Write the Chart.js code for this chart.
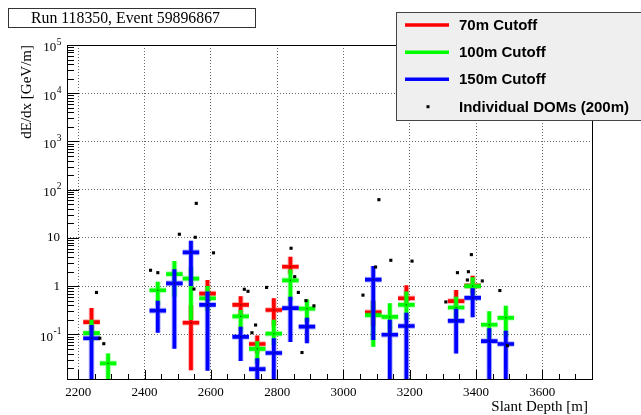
<!DOCTYPE html>
<html>
<head>
<meta charset="utf-8">
<script src="https://cdn.jsdelivr.net/npm/chart.js@4/dist/chart.umd.min.js"></script>
<style>
  html, body { margin: 0; padding: 0; background: #fff; }
  #wrap { width: 641px; height: 415px; }
</style>
</head>
<body>
<div id="wrap"><canvas id="c" width="641" height="415"></canvas></div>
<script>
// tick labels
const xTicks = [2200, 2400, 2600, 2800, 3000, 3200, 3400, 3600];
const yTicks = [0.1, 1, 10, 100, 1000, 10000, 100000];
// [base, exponent] for the y labels
const yTickLabels = [['10', '-1'], ['1', ''], ['10', ''], ['10', '2'], ['10', '3'], ['10', '4'], ['10', '5']];

// half bin width [m]
const binHalf = 25;

// 70m cutoff
const cut70X  = [2240, 2540, 2590, 2690, 2740, 2790, 2840, 3090, 3190, 3340, 3390];
const cut70Y  = [0.18, 0.174, 0.70, 0.41, 0.063, 0.32, 2.52, 0.286, 0.56, 0.49, 1.02];
const cut70Lo = [0.12, 0.018, 0.5, 0.25, 0.04, 0.15, 1.8, 0.15, 0.4, 0.35, 0.7];
const cut70Hi = [0.35, 0.4, 1.34, 0.62, 0.095, 0.56, 4.07, 0.5, 1.04, 0.83, 1.64];

// 100m cutoff
const cut100X  = [2240, 2290, 2440, 2490, 2540, 2590, 2690, 2740, 2790, 2840, 2890, 3090, 3140, 3190, 3340, 3390, 3440, 3490];
const cut100Y  = [0.106, 0.025, 0.82, 1.78, 1.43, 0.56, 0.236, 0.050, 0.103, 1.32, 0.34, 0.25, 0.23, 0.41, 0.36, 1.0, 0.158, 0.22];
const cut100Lo = [0.07, 0.004, 0.4, 0.6, 0.198, 0.3, 0.12, 0.025, 0.06, 0.5, 0.18, 0.055, 0.1, 0.2, 0.2, 0.5, 0.08, 0.09];
const cut100Hi = [0.20, 0.040, 1.23, 3.3, 2.5, 1.0, 0.32, 0.072, 0.20, 2.2, 0.53, 0.5, 0.44, 0.77, 0.6, 1.52, 0.30, 0.39];

// 150m cutoff
const cut150X  = [2240, 2440, 2490, 2540, 2590, 2690, 2740, 2790, 2840, 2890, 3090, 3140, 3190, 3340, 3390, 3440, 3490];
const cut150Y  = [0.083, 0.31, 1.14, 5.0, 0.41, 0.089, 0.019, 0.041, 0.35, 0.144, 1.36, 0.098, 0.149, 0.19, 0.57, 0.072, 0.063];
const cut150Lo = [0.004, 0.108, 0.050, 1.0, 0.0176, 0.028, 0.004, 0.004, 0.069, 0.065, 0.076, 0.004, 0.004, 0.040, 0.225, 0.004, 0.004];
const cut150Hi = [0.156, 0.50, 2.23, 8.7, 0.77, 0.144, 0.032, 0.083, 0.60, 0.22, 2.6, 0.20, 0.28, 0.34, 0.9, 0.133, 0.119];

// individual DOMs (200m)
const domX = [2255, 2265, 2277, 2418, 2440, 2505, 2549, 2553, 2556, 2608, 2701, 2712, 2724, 2735, 2768, 2842, 2853, 2864, 2875, 2887, 2911, 3059, 3097, 3107, 3143, 3207, 3309, 3344, 3374, 3377, 3386, 3419, 3472, 3495];
const domY = [0.74, 0.083, 0.064, 2.13, 1.90, 11.9, 0.87, 10.3, 52, 4.9, 0.86, 0.78, 0.108, 0.156, 0.94, 6.1, 1.57, 0.74, 0.042, 0.50, 0.39, 0.65, 2.49, 62, 3.43, 3.3, 0.47, 1.90, 1.34, 1.99, 4.5, 1.28, 0.81, 0.058];

const SERIF = '"Liberation Serif", "DejaVu Serif", serif';
const SANS = '"Liberation Sans", Arial, sans-serif';

function errPoints(xs, ys, lo, hi) {
  return xs.map((x, i) => ({ x: x, y: ys[i], yMin: lo[i], yMax: hi[i] }));
}

const errSeries = [
  { label: '70m Cutoff', color: '#ff0000', halo: 'rgba(255,0,0,0.3)', data: errPoints(cut70X, cut70Y, cut70Lo, cut70Hi) },
  { label: '100m Cutoff', color: '#00ff00', halo: 'rgba(0,255,0,0.3)', data: errPoints(cut100X, cut100Y, cut100Lo, cut100Hi) },
  { label: '150m Cutoff', color: '#0000ff', halo: 'rgba(0,0,255,0.3)', data: errPoints(cut150X, cut150Y, cut150Lo, cut150Hi) },
];

// ROOT-like error crosses, drawn under the DOM markers
const errorBars = {
  id: 'errorBars',
  beforeDatasetsDraw(chart) {
    const { ctx, chartArea: a, scales: { x, y } } = chart;
    ctx.save();
    ctx.beginPath();
    ctx.rect(a.left, a.top, a.right - a.left, a.bottom - a.top);
    ctx.clip();
    chart.data.datasets.forEach((ds) => {
      if (!ds.errColor) return;
      const segs = ds.data.map((p) => ({
        xc: x.getPixelForValue(p.x),
        xl: x.getPixelForValue(p.x - binHalf),
        xr: x.getPixelForValue(p.x + binHalf),
        yc: y.getPixelForValue(p.y),
        yt: y.getPixelForValue(p.yMax),
        yb: y.getPixelForValue(p.yMin),
      }));
      [[ds.errHalo, 5.6], [ds.errColor, 3.7]].forEach(([col, w]) => {
        ctx.strokeStyle = col;
        ctx.lineWidth = w;
        ctx.lineCap = 'butt';
        segs.forEach((s) => {
          ctx.beginPath();
          ctx.moveTo(s.xl, s.yc); ctx.lineTo(s.xr, s.yc);
          ctx.moveTo(s.xc, s.yt); ctx.lineTo(s.xc, s.yb);
          ctx.stroke();
        });
      });
      ctx.fillStyle = 'rgba(0,0,0,0.7)';
      segs.forEach((s) => ctx.fillRect(s.xc - 0.6, s.yc - 0.6, 1.2, 1.2));
    });
    ctx.restore();
  },
  afterDraw(chart) {
    const { ctx, chartArea: a, scales: { x, y } } = chart;
    ctx.save();
    // frame
    ctx.strokeStyle = '#000';
    ctx.lineWidth = 1;
    ctx.strokeRect(Math.round(a.left) + 0.5, Math.round(a.top) + 0.5,
      Math.round(a.right - a.left) - 1, Math.round(a.bottom - a.top) - 1);

    // x ticks (inside)
    ctx.beginPath();
    for (let v = 2200; v <= x.max; v += 50) {
      const px = Math.round(x.getPixelForValue(v)) + 0.5;
      const len = v % 200 === 0 ? 10 : 6;
      ctx.moveTo(px, a.bottom);
      ctx.lineTo(px, a.bottom - len);
    }
    // y ticks (inside), log
    for (let d = -2; d <= 4; d++) {
      for (let k = 1; k <= 9; k++) {
        const v = k * Math.pow(10, d);
        if (v < y.min || v > y.max) continue;
        const py = Math.round(y.getPixelForValue(v)) + 0.5;
        const len = k === 1 ? 12 : 7;
        ctx.moveTo(a.left, py);
        ctx.lineTo(a.left + len, py);
      }
    }
    ctx.stroke();

    // y tick labels with real superscripts
    ctx.fillStyle = '#000';
    ctx.textAlign = 'left';
    ctx.textBaseline = 'middle';
    yTicks.forEach((v, i) => {
      const [base, ex] = yTickLabels[i];
      const py = y.getPixelForValue(v);
      ctx.font = '13px ' + SERIF;
      const wb = ctx.measureText(base).width;
      if (!ex) {
        ctx.fillText(base, 60 - wb, py);
        return;
      }
      ctx.font = '9.5px ' + SERIF;
      const we = ctx.measureText(ex).width;
      const x0 = 61 - wb - we;
      ctx.font = '13px ' + SERIF;
      ctx.fillText(base, x0, py + 3);
      ctx.font = '9.5px ' + SERIF;
      ctx.fillText(ex, x0 + wb + 0.5, py - 3);
    });

    // title box
    ctx.fillStyle = '#fff';
    ctx.fillRect(8, 8, 247, 19);
    ctx.strokeStyle = '#333';
    ctx.strokeRect(8.5, 8.5, 247, 19);
    ctx.fillStyle = '#000';
    ctx.font = '15.8px ' + SERIF;
    ctx.textAlign = 'left';
    ctx.textBaseline = 'alphabetic';
    ctx.fillText('Run 118350, Event 59896867', 31, 23);

    // legend
    ctx.fillStyle = '#efefef';
    ctx.fillRect(396, 12, 250, 109);
    ctx.strokeStyle = '#444';
    ctx.strokeRect(396.5, 12.5, 250, 108);
    const rows = [25, 52.3, 79.3, 106.7];
    ctx.font = 'bold 15px ' + SANS;
    ctx.textBaseline = 'middle';
    errSeries.forEach((s, i) => {
      ctx.strokeStyle = s.color;
      ctx.lineWidth = 3.5;
      ctx.beginPath();
      ctx.moveTo(405, rows[i]); ctx.lineTo(449, rows[i]);
      ctx.stroke();
      ctx.fillStyle = '#000';
      ctx.fillText(s.label, 459, rows[i] + 1);
    });
    ctx.fillStyle = '#000';
    ctx.fillRect(426.5, rows[3] - 1.5, 3, 3);
    ctx.fillText('Individual DOMs (200m)', 459, rows[3] + 1);

    // axis titles
    ctx.font = '15px ' + SERIF;
    ctx.textAlign = 'right';
    ctx.textBaseline = 'alphabetic';
    ctx.fillText('Slant Depth [m]', 588, 411);
    ctx.save();
    ctx.translate(31, 45);
    ctx.rotate(-Math.PI / 2);
    ctx.textAlign = 'right';
    ctx.fillText('dE/dx [GeV/m]', 0, 0);
    ctx.restore();
    ctx.restore();
  }
};

const datasets = errSeries.map((s) => ({
  label: s.label,
  data: s.data,
  errColor: s.color,
  errHalo: s.halo,
  pointRadius: 0,
  showLine: false,
}));
datasets.push({
  label: 'Individual DOMs (200m)',
  data: domX.map((x, i) => ({ x: x, y: domY[i] })),
  pointStyle: 'rect',
  pointRadius: 2.2,
  backgroundColor: '#000',
  borderWidth: 0,
});

new Chart(document.getElementById('c').getContext('2d'), {
  type: 'scatter',
  data: { datasets: datasets },
  options: {
    responsive: false,
    animation: false,
    devicePixelRatio: 1,
    events: [],
    layout: { padding: { top: 45, right: 48, left: 0, bottom: 0 } },
    plugins: { legend: { display: false }, tooltip: { enabled: false } },
    scales: {
      x: {
        type: 'linear',
        min: 2166,
        max: 3753,
        afterBuildTicks: (s) => { s.ticks = xTicks.map((v) => ({ value: v })); },
        afterFit: (s) => { s.height = 35; },
        grid: { color: '#666', lineWidth: 1, drawTicks: false },
        border: { display: false, dash: [1, 2] },
        ticks: {
          autoSkip: false, maxRotation: 0, padding: 5, color: '#000',
          font: { family: SERIF, size: 13 },
          callback: (v) => String(v),
        },
      },
      y: {
        type: 'logarithmic',
        min: 0.0113,
        max: 100000,
        afterBuildTicks: (s) => { s.ticks = yTicks.map((v) => ({ value: v })); },
        afterFit: (s) => { s.width = 67; },
        grid: { color: '#666', lineWidth: 1, drawTicks: false },
        border: { display: false, dash: [1, 2] },
        ticks: { display: false },
      },
    },
  },
  plugins: [errorBars],
});
</script>
</body>
</html>
